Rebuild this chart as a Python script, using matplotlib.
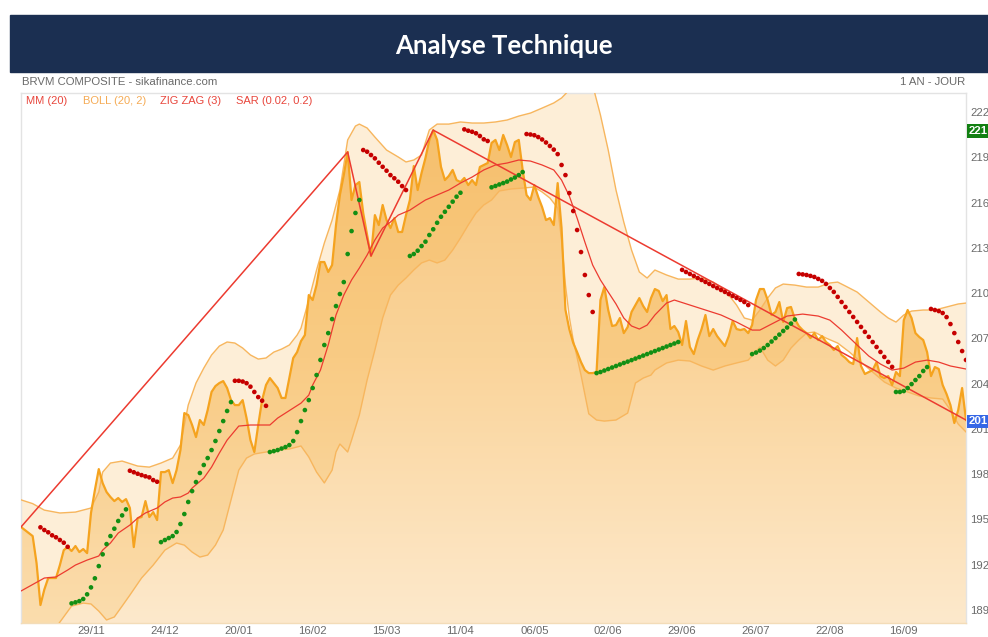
import numpy as np
import pandas as pd
import matplotlib
matplotlib.use('Agg')
import matplotlib.pyplot as plt
from matplotlib.colors import LinearSegmentedColormap
from matplotlib.patches import Rectangle
from matplotlib import transforms

# one year of trading days
days = pd.bdate_range('2021-11-03', periods=244)
tick_dates = ['2021-11-29', '2021-12-24', '2022-01-20', '2022-02-16', '2022-03-15', '2022-04-11',
              '2022-05-06', '2022-06-02', '2022-06-29', '2022-07-26', '2022-08-22', '2022-09-16']
tick_labels = ['29/11', '24/12', '20/01', '16/02', '15/03', '11/04',
               '06/05', '02/06', '29/06', '26/07', '22/08', '16/09']
y_ticks = [189, 192, 195, 198, 201, 204, 207, 210, 213, 216, 219, 222]

# daily close
close = [194.50, 194.30, 194.10, 193.90, 192.11, 189.33, 190.36, 191.12, 191.12, 191.12,
         191.98, 192.97, 193.17, 192.91, 193.24, 192.84, 193.04, 192.77, 195.43, 196.95,
         198.34, 197.41, 196.82, 196.49, 196.22, 196.42, 196.16, 196.35, 195.76, 193.17,
         195.09, 195.16, 196.22, 195.16, 195.49, 194.96, 198.14, 198.14, 198.27, 197.41,
         198.27, 199.60, 202.05, 201.92, 201.26, 200.46, 201.59, 201.26, 202.25, 203.45,
         203.84, 204.04, 204.17, 203.71, 202.91, 202.58, 202.58, 202.91, 201.72, 200.26,
         199.47, 201.26, 202.91, 203.91, 204.37, 204.04, 203.71, 203.05, 203.05, 204.37,
         205.70, 206.09, 206.82, 207.22, 209.87, 209.54, 210.54, 212.06, 212.06, 211.40,
         211.86, 214.51, 216.50, 217.82, 219.35, 216.17, 217.16, 217.36, 215.30, 213.85,
         212.46, 215.17, 214.51, 215.84, 214.84, 214.31, 214.97, 214.05, 214.05, 215.17,
         216.17, 218.42, 216.83, 217.96, 218.95, 220.15, 220.80, 220.15, 218.36, 217.49,
         217.76, 218.16, 217.49, 217.36, 217.63, 217.16, 217.49, 217.16, 218.36, 218.49,
         218.62, 219.95, 220.15, 219.48, 220.48, 219.81, 219.02, 220.01, 220.15, 218.16,
         216.50, 216.17, 217.16, 216.37, 215.70, 214.84, 214.97, 214.51, 217.29, 214.31,
         208.90, 207.60, 206.70, 206.09, 205.43, 204.90, 204.70, 204.70, 204.77, 209.54,
         210.40, 208.88, 207.82, 207.88, 208.35, 207.35, 207.75, 208.75, 209.21, 209.67,
         209.14, 208.75, 209.67, 210.27, 210.14, 209.47, 209.87, 207.62, 207.82, 207.42,
         206.56, 208.15, 206.43, 205.96, 206.89, 207.62, 208.55, 207.15, 207.62, 207.15,
         206.82, 206.49, 207.15, 208.15, 207.62, 207.55, 207.62, 207.35, 207.88, 209.54,
         210.27, 210.27, 209.54, 208.55, 208.75, 209.41, 208.09, 209.01, 209.08, 208.28,
         207.82, 207.55, 207.35, 207.02, 207.35, 206.89, 207.15, 206.76, 206.56, 206.23,
         206.49, 205.90, 205.70, 205.43, 205.30, 207.02, 205.17, 204.64, 204.77, 204.90,
         205.43, 204.50, 204.37, 204.50, 203.91, 204.77, 204.50, 208.21, 208.88, 208.35,
         207.35, 207.09, 206.89, 206.09, 204.50, 205.10, 204.97, 203.91, 203.31, 202.58,
         201.39, 202.25, 203.71, 201.59]

# moving average MM(20)
mm_days = [0, 6, 9, 12, 14, 17, 20, 21, 23, 25, 28, 30, 32, 35, 37, 39, 41, 43, 44, 47,
           49, 51, 53, 56, 59, 64, 66, 70, 72, 74, 75, 77, 79, 81, 83, 85, 87, 89, 91, 93,
           95, 97, 100, 102, 104, 107, 110, 113, 116, 119, 122, 125, 128, 131, 134, 137, 139, 141, 143, 145,
           147, 149, 151, 153, 155, 157, 159, 161, 163, 166, 168, 172, 176, 180, 184, 188, 190, 193, 197, 201,
           205, 208, 211, 215, 218, 221, 224, 227, 230, 233, 236, 239, 243]
mm_vals = [190.26, 191.12, 191.19, 191.65, 191.98, 192.31, 192.58, 192.97, 193.44, 194.10,
           194.63, 195.09, 195.43, 195.76, 196.16, 196.42, 196.49, 196.75, 197.08, 197.74,
           198.47, 199.40, 200.26, 201.19, 201.26, 201.26, 201.72, 202.38, 202.71, 203.24,
           203.91, 204.90, 206.56, 208.55, 209.87, 210.87, 211.66, 212.52, 213.52, 214.31,
           214.71, 215.17, 215.50, 215.84, 216.17, 216.50, 216.83, 217.29, 217.69, 218.16,
           218.49, 218.62, 218.82, 218.75, 218.49, 218.16, 217.49, 216.43, 214.97, 213.38,
           211.86, 210.87, 210.07, 209.28, 208.35, 207.82, 207.62, 207.88, 208.55, 209.34,
           209.54, 209.21, 208.88, 208.55, 208.08, 207.55, 207.55, 207.95, 208.48, 208.61,
           208.48, 208.21, 207.55, 206.56, 205.83, 205.30, 204.90, 205.03, 205.43, 205.56,
           205.43, 205.17, 204.97]

# Bollinger (20, 2)
up_days = [0, 3, 6, 10, 14, 18, 20, 21, 23, 26, 30, 33, 36, 39, 41, 43, 45, 47, 49, 51,
           53, 55, 57, 59, 61, 63, 65, 67, 69, 71, 72, 74, 76, 78, 80, 82, 84, 86, 87, 89,
           91, 94, 97, 99, 101, 103, 105, 107, 110, 113, 116, 119, 122, 125, 128, 131, 134, 137, 139, 141,
           143, 145, 147, 149, 151, 153, 155, 157, 159, 161, 163, 166, 169, 172, 175, 178, 181, 184, 186, 188,
           190, 192, 194, 196, 199, 202, 205, 208, 210, 212, 215, 218, 221, 223, 225, 227, 229, 232, 235, 238,
           241, 243]
up_vals = [196.30, 196.05, 195.62, 195.43, 195.49, 195.76, 196.82, 198.14, 198.74, 198.87,
           198.54, 198.47, 198.74, 199.07, 199.93, 202.58, 204.04, 205.03, 205.90, 206.49,
           206.76, 206.69, 206.36, 205.90, 205.63, 205.70, 206.09, 206.29, 206.56, 207.22,
           207.68, 209.54, 211.53, 213.32, 214.84, 216.83, 220.15, 221.07, 221.20, 220.94,
           220.34, 219.48, 219.02, 218.69, 218.82, 219.15, 220.81, 221.20, 221.20, 221.34,
           221.27, 221.27, 221.34, 221.47, 221.73, 221.93, 222.26, 222.60, 222.93, 223.46,
           224.12, 224.45, 223.79, 221.80, 219.48, 216.83, 214.71, 212.85, 211.40, 211.00,
           211.53, 211.20, 210.93, 210.93, 211.00, 210.73, 210.20, 209.21, 208.35, 208.21,
           208.88, 209.67, 210.34, 210.60, 210.53, 210.40, 210.40, 210.67, 210.73, 210.47,
           210.07, 209.41, 208.75, 208.35, 208.08, 208.55, 208.81, 208.88, 208.88, 209.08,
           209.28, 209.34]
lo_days = [0, 6, 10, 13, 16, 18, 20, 22, 24, 26, 28, 31, 34, 37, 40, 42, 44, 46, 48, 50,
           52, 54, 56, 58, 60, 63, 66, 69, 72, 74, 76, 78, 80, 81, 82, 83, 84, 85, 87, 89,
           91, 93, 95, 97, 99, 101, 103, 105, 107, 109, 111, 113, 115, 117, 119, 121, 123, 126, 129, 132,
           134, 136, 138, 139, 140, 141, 142, 144, 146, 148, 150, 153, 156, 157, 158, 160, 162, 163, 166, 169,
           172, 175, 178, 181, 184, 187, 190, 192, 194, 196, 198, 200, 202, 204, 207, 210, 213, 216, 219, 222,
           225, 228, 231, 234, 237, 239, 241, 243]
lo_vals = [187.00, 186.80, 188.20, 189.26, 189.46, 189.40, 188.93, 188.34, 188.54, 189.26,
           189.99, 191.12, 191.98, 192.97, 193.44, 193.30, 192.84, 192.51, 192.64, 193.30,
           194.30, 196.29, 198.27, 199.07, 199.34, 199.47, 199.60, 199.67, 199.87, 199.14,
           198.14, 197.42, 198.27, 199.47, 200.00, 199.74, 199.47, 200.26, 201.92, 204.24,
           206.23, 208.35, 209.87, 210.53, 211.00, 211.53, 212.00, 212.19, 212.00, 212.19,
           212.85, 213.65, 214.51, 215.31, 215.84, 216.17, 216.77, 216.90, 216.96, 217.03,
           216.70, 216.30, 215.64, 213.52, 210.54, 208.40, 206.90, 204.57, 202.00, 201.59,
           201.52, 201.59, 202.05, 203.05, 204.04, 204.37, 204.57, 204.90, 205.37, 205.56,
           205.50, 205.17, 204.90, 205.17, 205.37, 205.56, 206.43, 205.56, 205.17, 205.56,
           206.36, 206.89, 207.35, 207.42, 207.02, 206.69, 206.10, 205.43, 204.77, 204.11,
           203.71, 203.45, 203.18, 203.05, 202.98, 202.25, 201.32, 200.80]

# zig zag (3)
zz_days = [0, 84, 90, 106, 243]
zz_vals = [194.50, 219.35, 212.46, 220.80, 201.59]

# parabolic SAR (0.02, 0.2), one dot per day from day 5, trend flips on these days
sar_first_day = 5
sar_flip_days = [5, 13, 28, 36, 55, 64, 88, 100, 114, 121, 130, 148, 170, 188, 200, 225, 234]
sar = [194.48, 194.30, 194.15, 193.95, 193.82, 193.64, 193.46, 193.19,
       189.44, 189.51, 189.59, 189.73, 190.04, 190.50, 191.10, 191.91, 192.69, 193.37, 193.90, 194.39,
       194.90, 195.27, 195.67,
       198.23, 198.13, 198.03, 197.94, 197.86, 197.79, 197.61, 197.50,
       193.50, 193.64, 193.77, 193.90, 194.17, 194.70, 195.36, 196.16, 196.88, 197.48, 198.08, 198.61,
       199.07, 199.60, 200.20, 200.86, 201.52, 202.19, 202.78,
       204.19, 204.19, 204.14, 204.03, 203.80, 203.45, 203.11, 202.87, 202.53,
       199.47, 199.53, 199.60, 199.70, 199.80, 199.93, 200.20, 200.79, 201.52, 202.25, 202.91, 203.71,
       204.57, 205.57, 206.56, 207.35, 208.28, 209.14, 209.94, 210.73, 212.59, 214.11, 215.31, 216.17,
       219.48, 219.37, 219.15, 218.93, 218.64, 218.37, 218.11, 217.82, 217.61, 217.38, 217.09, 216.83,
       212.46, 212.59, 212.81, 213.12, 213.41, 213.85, 214.23, 214.66, 215.06, 215.39, 215.72, 216.06,
       216.39, 216.65,
       220.85, 220.76, 220.69, 220.59, 220.41, 220.19, 220.08,
       217.01, 217.10, 217.20, 217.29, 217.39, 217.53, 217.66, 217.82, 218.02,
       220.54, 220.51, 220.46, 220.34, 220.18, 219.98, 219.75, 219.51, 219.21, 218.49, 217.82, 216.63,
       215.44, 214.18, 212.72, 211.20, 209.87, 208.75,
       204.70, 204.77, 204.87, 204.97, 205.07, 205.17, 205.27, 205.37, 205.46, 205.56, 205.66, 205.76,
       205.86, 205.96, 206.06, 206.16, 206.26, 206.36, 206.46, 206.56, 206.66, 206.76,
       211.54, 211.40, 211.27, 211.14, 211.00, 210.87, 210.74, 210.61, 210.47, 210.34, 210.21, 210.08,
       209.94, 209.81, 209.68, 209.55, 209.41, 209.21,
       205.96, 206.06, 206.19, 206.36, 206.56, 206.79, 207.02, 207.25, 207.49, 207.72, 207.98, 208.25,
       211.27, 211.24, 211.20, 211.14, 211.07, 210.94, 210.81, 210.61, 210.34, 210.08, 209.75, 209.41,
       209.08, 208.75, 208.42, 208.09, 207.76, 207.43, 207.10, 206.76, 206.43, 206.10, 205.77, 205.44,
       205.11,
       203.45, 203.45, 203.51, 203.71, 203.97, 204.24, 204.50, 204.84, 205.10,
       208.95, 208.88, 208.81, 208.68, 208.41, 207.95, 207.35, 206.76, 206.16, 205.57]

last_close = 201.5
box_high = 220.74

W, H = 988, 637
fig = plt.figure(figsize=(W / 100, H / 100), dpi=100)
fig.patch.set_facecolor('white')


def fx(x):
    return x / W


def fy(y):
    return 1 - y / H


fig.patches.append(Rectangle((fx(10), fy(72)), (W - 10) / W, 57 / H,
                             transform=fig.transFigure, color='#1b2f51', zorder=0))
fig.text(fx(504), fy(46), 'Analyse Technique', color='white', fontsize=18.5, fontweight='bold',
         family='Lato', ha='center', va='center')
fig.text(fx(22), fy(82), 'BRVM COMPOSITE - sikafinance.com', color='#6a6a6a', fontsize=8.2,
         family='Liberation Sans', ha='left', va='center')
fig.text(fx(965), fy(82), '1 AN - JOUR', color='#6a6a6a', fontsize=8.2,
         family='Liberation Sans', ha='right', va='center')

ax = fig.add_axes([fx(21), fy(623), (966 - 21) / W, (623 - 93) / H])
ylo, yhi = 188.14, 223.26
x = np.arange(len(close))

# gradient fill below the close
cmap = LinearSegmentedColormap.from_list('fill', ['#fde9cc', '#fad49a', '#f7c47a'])
grad = np.linspace(0, 1, 256).reshape(-1, 1)
im = ax.imshow(grad, extent=[0, x[-1], ylo, yhi], origin='lower', aspect='auto',
               cmap=cmap, zorder=1, interpolation='bicubic')
area = ax.fill_between(x, close, ylo, facecolor='none', edgecolor='none')
im.set_clip_path(area.get_paths()[0], transform=ax.transData)

# bollinger band
bx = np.concatenate([up_days, lo_days[::-1]])
by = np.concatenate([up_vals, lo_vals[::-1]])
ax.fill(bx, by, color='#f5a623', alpha=0.18, lw=0, zorder=2)
ax.plot(up_days, up_vals, color='#f7b65e', lw=1.0, zorder=3)
ax.plot(lo_days, lo_vals, color='#f7b65e', lw=1.0, zorder=3)

ax.plot(x, close, color='#f5a31f', lw=1.6, zorder=4, solid_joinstyle='round')
ax.plot(mm_days, mm_vals, color='#ec3b30', lw=0.9, zorder=5)
ax.plot(zz_days, zz_vals, color='#ec3b30', lw=1.1, zorder=5)

sar_days = np.arange(sar_first_day, sar_first_day + len(sar))
seg = np.searchsorted(sar_flip_days, sar_days, side='right') - 1
sar_colors = np.where(seg % 2 == 0, '#c60000', '#138f13')
ax.scatter(sar_days, sar, s=11, c=sar_colors, linewidths=0, zorder=6)

ax.set_xlim(0, x[-1])
ax.set_ylim(ylo, yhi)

tick_pos = days.get_indexer(pd.to_datetime(tick_dates))
ax.set_xticks(tick_pos)
ax.set_xticklabels(tick_labels)
ax.yaxis.tick_right()
ax.set_yticks(y_ticks)
ax.tick_params(axis='both', length=0, labelsize=8.2, labelcolor='#6a6a6a')
ax.tick_params(axis='x', pad=2)
ax.tick_params(axis='y', pad=3)
for lab in ax.get_xticklabels() + ax.get_yticklabels():
    lab.set_family('Liberation Sans')
for sp in ax.spines.values():
    sp.set_color('#e3e3e3')
    sp.set_linewidth(1)
ax.spines['bottom'].set_color('#f3dcb8')

tr = transforms.blended_transform_factory(ax.transAxes, ax.transData)
ax.text(1.003, box_high, '%d' % round(box_high), transform=tr, ha='left', va='center',
        color='white', fontsize=8.2, fontweight='bold', family='Liberation Sans',
        bbox=dict(boxstyle='square,pad=0.15', fc='#128012', ec='none'), clip_on=False)
ax.text(1.003, last_close, '%d' % int(last_close), transform=tr, ha='left', va='center',
        color='white', fontsize=8.2, fontweight='bold', family='Liberation Sans',
        bbox=dict(boxstyle='square,pad=0.15', fc='#3567e6', ec='none'), clip_on=False)

# legend
legend = [('MM (20)', 26, '#e8463c'), ('BOLL (20, 2)', 83, '#f5ab55'),
          ('ZIG ZAG (3)', 160, '#e8463c'), ('SAR (0.02, 0.2)', 236, '#e8463c')]
for txt, px, col in legend:
    fig.text(fx(px), fy(101), txt, color=col, fontsize=8, family='Liberation Sans',
             ha='left', va='center')

fig.savefig('out.png', dpi=100)
